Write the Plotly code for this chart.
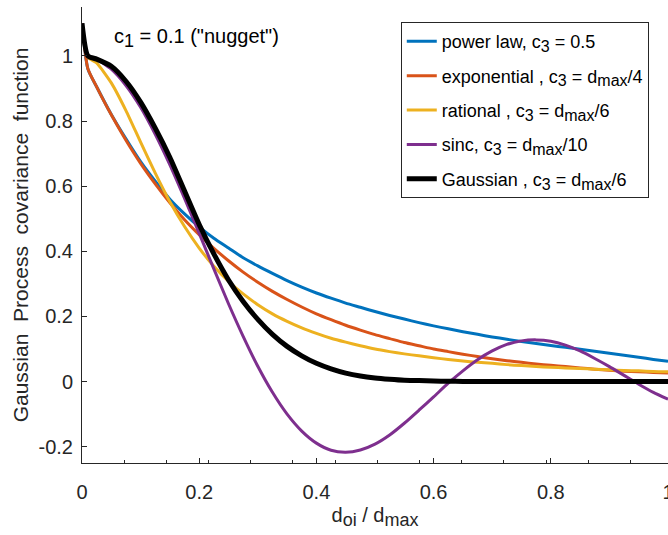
import plotly.graph_objects as go

x = [0, 0.01, 0.025, 0.05, 0.075, 0.1, 0.125, 0.15, 0.175, 0.2, 0.225, 0.25, 0.275, 0.3,
     0.325, 0.35, 0.375, 0.4, 0.425, 0.45, 0.475, 0.5, 0.525, 0.55, 0.575, 0.6, 0.625,
     0.65, 0.675, 0.7, 0.725, 0.75, 0.775, 0.8, 0.825, 0.85, 0.875, 0.9, 0.925, 0.95,
     0.975, 1.0]

power_law = [1.1, 0.96, 0.905, 0.82, 0.745, 0.675, 0.615, 0.56, 0.515, 0.475, 0.44, 0.41,
             0.38, 0.355, 0.332, 0.31, 0.29, 0.272, 0.256, 0.241, 0.228, 0.215, 0.203,
             0.192, 0.181, 0.171, 0.162, 0.153, 0.145, 0.137, 0.130, 0.123, 0.117, 0.111,
             0.105, 0.099, 0.093, 0.087, 0.081, 0.075, 0.068, 0.062]

exponential = [1.1, 0.961, 0.905, 0.819, 0.741, 0.670, 0.607, 0.549, 0.497, 0.451, 0.409,
               0.371, 0.336, 0.305, 0.277, 0.252, 0.229, 0.208, 0.190, 0.173, 0.158, 0.144,
               0.132, 0.120, 0.110, 0.100, 0.092, 0.084, 0.077, 0.070, 0.064, 0.059, 0.054,
               0.050, 0.046, 0.042, 0.038, 0.035, 0.032, 0.030, 0.028, 0.026]

rational = [1.1, 0.996, 0.978, 0.917, 0.832, 0.735, 0.640, 0.552, 0.476, 0.410, 0.354,
            0.308, 0.269, 0.236, 0.208, 0.185, 0.165, 0.148, 0.133, 0.121, 0.110, 0.100,
            0.092, 0.085, 0.079, 0.073, 0.068, 0.063, 0.059, 0.056, 0.052, 0.049, 0.046,
            0.044, 0.042, 0.040, 0.038, 0.036, 0.034, 0.033, 0.031, 0.030]

sinc = [1.1, 0.998, 0.990, 0.959, 0.909, 0.842, 0.759, 0.665, 0.562, 0.455, 0.346, 0.239,
        0.139, 0.047, -0.033, -0.100, -0.152, -0.189, -0.211, -0.217, -0.210, -0.192,
        -0.164, -0.128, -0.088, -0.047, -0.005, 0.033, 0.067, 0.094, 0.114, 0.125, 0.128,
        0.124, 0.112, 0.094, 0.071, 0.046, 0.019, -0.008, -0.033, -0.054]

gaussian = [1.1, 1.0, 0.99, 0.968, 0.922, 0.858, 0.778, 0.688, 0.585, 0.482, 0.392,
            0.312, 0.246, 0.191, 0.145, 0.108, 0.079, 0.056, 0.039, 0.026, 0.017, 0.011,
            0.007, 0.004, 0.003, 0.0015, 0.001, 0.0005, 0, 0, 0, 0, 0, 0, 0, 0, 0, 0, 0,
            0, 0, 0]

FONT = "Liberation Sans, Arial, Helvetica, sans-serif"
AX = "#262626"


def sub(t, size):
    return f'<sub><span style="font-size:{size}px">{t}</span></sub>'


LS = 16  # legend subscript size
series = [
    (f"power law, c{sub('3', LS)} = 0.5", power_law, "#0072BD", 3),
    (f"exponential , c{sub('3', LS)} = d{sub('max', LS)}/4", exponential, "#D95319", 3),
    (f"rational , c{sub('3', LS)} = d{sub('max', LS)}/6", rational, "#EDB120", 3),
    (f"sinc, c{sub('3', LS)} = d{sub('max', LS)}/10", sinc, "#7E2F8E", 3),
    (f"Gaussian , c{sub('3', LS)} = d{sub('max', LS)}/6", gaussian, "#000000", 5),
]

fig = go.Figure()
for i, (name, ys, col, w) in enumerate(series):
    fig.add_trace(go.Scatter(x=x, y=ys, mode="lines", name=name, legendgroup=f"g{i}",
                             line=dict(color=col, width=w, shape="spline", smoothing=0.6)))

fig.add_annotation(x=0.196, y=1.055, xref="x", yref="y", xanchor="center", yanchor="middle",
                   text=f'c{sub("1", 18)} = 0.1 ("nugget")', showarrow=False,
                   font=dict(family=FONT, size=20, color="#000000"))

fig.update_layout(
    width=668, height=535,
    margin=dict(l=82, r=0, t=7, b=72, autoexpand=False),
    paper_bgcolor="white", plot_bgcolor="white",
    font=dict(family=FONT, size=20, color=AX),
    showlegend=True,
    legend=dict(x=0.544, y=0.967, xanchor="left", yanchor="top",
                bgcolor="white", bordercolor=AX, borderwidth=1,
                font=dict(family=FONT, size=18, color="#000000"),
                itemwidth=30, traceorder="grouped", tracegroupgap=8),
    xaxis=dict(range=[0, 1], tickvals=[0, 0.2, 0.4, 0.6, 0.8, 1],
               ticktext=["0", "0.2", "0.4", "0.6", "0.8", "1"],
               showline=True, linecolor=AX, linewidth=1, mirror=False, automargin=False,
               ticks="inside", ticklen=5, tickcolor=AX, showgrid=False, zeroline=False,
               ticklabelstandoff=11, ticklabeloverflow="allow", tickfont=dict(size=20),
               title=dict(text=f"d{sub('oi', 18)} / d{sub('max', 18)}",
                          font=dict(size=20), standoff=5),
               minor=dict(ticks="inside", ticklen=3, tickcolor=AX, tick0=0, dtick=0.072)),
    yaxis=dict(range=[-0.25, 1.15], tickvals=[-0.2, 0, 0.2, 0.4, 0.6, 0.8, 1],
               ticktext=["-0.2", "0", "0.2", "0.4", "0.6", "0.8", "1"],
               showline=True, linecolor=AX, linewidth=1, mirror=False, automargin=False,
               ticks="inside", ticklen=5, tickcolor=AX, showgrid=False, zeroline=False,
               ticklabelstandoff=4, tickfont=dict(size=20),
               title=dict(text="Gaussian  Process  covariance  function",
                          font=dict(size=21), standoff=4)),
)

fig.write_html("out.html")
